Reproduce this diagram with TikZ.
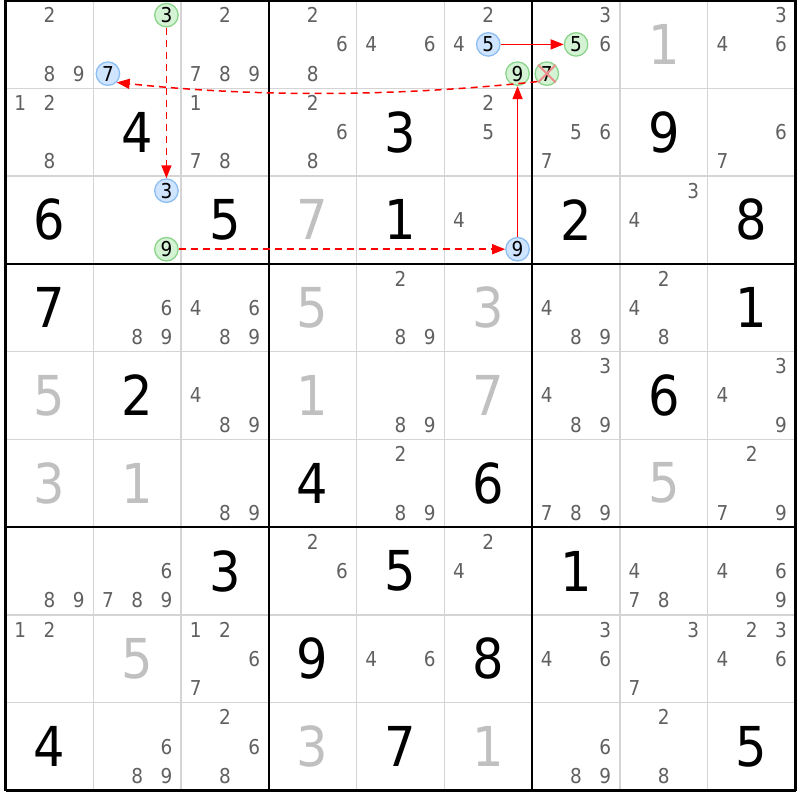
\documentclass[tikz,border=0pt]{standalone}
\usepackage{fontspec}
\setmainfont{DejaVu Sans Condensed}
\usepackage{tikz}
\usetikzlibrary{arrows.meta}

\definecolor{candgray}{RGB}{96,96,96}
\definecolor{solvedgray}{RGB}{192,192,192}
\definecolor{thingray}{RGB}{212,212,212}
\definecolor{greenfill}{RGB}{212,242,212}
\definecolor{greenline}{RGB}{140,212,140}
\definecolor{bluefill}{RGB}{206,228,255}
\definecolor{blueline}{RGB}{140,190,240}
\definecolor{xpink}{RGB}{240,140,140}
\definecolor{chainred}{RGB}{255,0,0}

\begin{document}
\begin{tikzpicture}[x=1pt,y=-1pt,
      given/.style={
         inner sep=0pt,
         text=black,
         font=\fontsize{55}{55}\selectfont},
      solved/.style={
         given,
         text=solvedgray},
      cand/.style={
         inner sep=0pt,
         text=candgray,
         font=\fontsize{20.5}{20.5}\selectfont},
      greencand/.style={
         cand,
         circle,
         text=black,
         draw=greenline,
         fill=greenfill,
         line width=1.3pt,
         minimum size=23.5pt},
      bluecand/.style={
         greencand,
         draw=blueline,
         fill=bluefill},
      chainarrow/.style={-{Triangle[length=13pt,width=10pt]}, draw=chainred, line width=1.5pt},
      weaklink/.style={chainarrow, dash pattern=on 7pt off 5pt}
      ]
      \useasboundingbox (0,0) rectangle (800,800);

      % grid lines
      \foreach \i in {0,...,9}{
        \draw[thingray, line width=1.3pt] (5.5+\i*87.78,0.5) -- (5.5+\i*87.78,790.5);
        \draw[thingray, line width=1.3pt] (5.5,0.5+\i*87.78) -- (795.5,0.5+\i*87.78);
      }
      \foreach \i in {0,3,6,9}{
        \draw[black, line width=2.6pt] (5.5+\i*87.78,0.5) -- (5.5+\i*87.78,790.5);
        \draw[black, line width=2.6pt] (5.5,0.5+\i*87.78) -- (795.5,0.5+\i*87.78);
      }

      % big digits: row/col/digit/style
      \foreach \r/\c/\d/\s in {
        1/8/1/solved,
        2/2/4/given, 2/5/3/given, 2/8/9/given,
        3/1/6/given, 3/3/5/given, 3/4/7/solved, 3/5/1/given, 3/7/2/given, 3/9/8/given,
        4/1/7/given, 4/4/5/solved, 4/6/3/solved, 4/9/1/given,
        5/1/5/solved, 5/2/2/given, 5/4/1/solved, 5/6/7/solved, 5/8/6/given,
        6/1/3/solved, 6/2/1/solved, 6/4/4/given, 6/6/6/given, 6/8/5/solved,
        7/3/3/given, 7/5/5/given, 7/7/1/given,
        8/2/5/solved, 8/4/9/given, 8/6/8/given,
        9/1/4/given, 9/4/3/solved, 9/5/7/given, 9/6/1/solved, 9/9/5/given}
        \node[\s] (v\r\c) at (5.5+\c*87.78-43.89,0.5+\r*87.78-43.89) {\d};

      % candidates: row/col/list
      \foreach \r/\c/\list in {
        1/1/{2,8,9}, 1/3/{2,7,8,9}, 1/4/{2,6,8}, 1/5/{4,6}, 1/6/{2,4}, 1/7/{3,6}, 1/9/{3,4,6},
        2/1/{1,2,8}, 2/3/{1,7,8}, 2/4/{2,6,8}, 2/6/{2,5}, 2/7/{5,6,7}, 2/9/{6,7},
        3/6/{4}, 3/8/{3,4},
        4/2/{6,8,9}, 4/3/{4,6,8,9}, 4/5/{2,8,9}, 4/7/{4,8,9}, 4/8/{2,4,8},
        5/3/{4,8,9}, 5/5/{8,9}, 5/7/{3,4,8,9}, 5/9/{3,4,9},
        6/3/{8,9}, 6/5/{2,8,9}, 6/7/{7,8,9}, 6/9/{2,7,9},
        7/1/{8,9}, 7/2/{6,7,8,9}, 7/4/{2,6}, 7/6/{2,4}, 7/8/{4,7,8}, 7/9/{4,6,9},
        8/1/{1,2}, 8/3/{1,2,6,7}, 8/5/{4,6}, 8/7/{3,4,6}, 8/8/{3,7}, 8/9/{2,3,4,6},
        9/2/{6,8,9}, 9/3/{2,6,8}, 9/7/{6,8,9}, 9/8/{2,8}}
        \foreach \d in \list {
          \pgfmathsetmacro\px{5.5+(\c-1)*87.78+(2*mod(\d-1,3)+1)*14.63}
          \pgfmathsetmacro\py{0.5+(\r-1)*87.78+(2*int((\d-1)/3)+1)*14.63}
          \node[cand] (k\r\c\d) at (\px,\py) {\d};
        }

      % marked candidates: row/col/digit/style
      \foreach \r/\c/\d/\s in {
        1/2/3/greencand, 1/2/7/bluecand, 3/2/3/bluecand, 3/2/9/greencand,
        3/6/9/bluecand, 1/6/9/greencand, 1/6/5/bluecand, 1/7/5/greencand, 1/7/7/greencand} {
          \pgfmathsetmacro\px{5.5+(\c-1)*87.78+(2*mod(\d-1,3)+1)*14.63}
          \pgfmathsetmacro\py{0.5+(\r-1)*87.78+(2*int((\d-1)/3)+1)*14.63}
          \node[\s] (k\r\c\d) at (\px,\py) {\d};
        }

      % eliminated 7
      \draw[xpink, line width=2pt] (k177.45) -- (k177.225) (k177.135) -- (k177.-45);

      % chain
      \draw[weaklink] (k123) -- (k323);
      \draw[weaklink] (k329) -- (k369);
      \draw[chainarrow] (k369) -- (k169);
      \draw[chainarrow] (k165) -- (k175);
      \draw[weaklink] (k177.220) .. controls +(-140,15) and +(140,15) .. (k127.-45);
    \end{tikzpicture}
\end{document}
